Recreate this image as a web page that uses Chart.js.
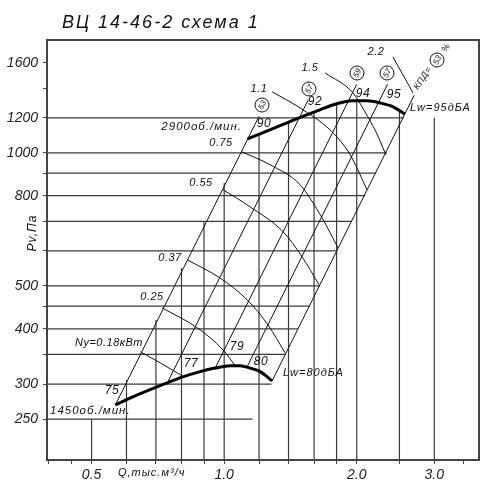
<!DOCTYPE html>
<html><head><meta charset="utf-8">
<script src="https://cdn.jsdelivr.net/npm/chart.js@4/dist/chart.umd.min.js"></script>
<style>html,body{margin:0;padding:0;background:#fff}</style>
</head><body>
<canvas id="c" width="500" height="488"></canvas>
<script>
// ---------- axis / tick data ----------
const X_MIN = 0.396, X_MAX = 3.79, Y_MIN = 202, Y_MAX = 1800;
const xTickMarks = [0.4, 0.45, 0.5, 0.6, 0.7, 0.8, 0.9, 1.0, 1.2, 1.4, 1.6, 1.8, 2.0, 2.5, 3.0, 3.5];
const xTickLabels = [0.5, 1.0, 2.0, 3.0];
const yTickMarks = [250, 300, 350, 400, 450, 500, 600, 700, 800, 900, 1000, 1200, 1400, 1600];
const yTickLabels = [250, 300, 400, 500, 800, 1000, 1200, 1600];

// ---------- partial grid lines ----------
const gridP    = [250, 300, 350, 400, 450, 500, 600, 700, 800, 900, 1000, 1200];
const gridEndQ = [1.16, 1.28, 1.38, 1.47, 1.56, 1.65, 1.80, 1.95, 2.09, 2.21, 2.34, 2.56];
const gridQ    = [0.5, 0.6, 0.7, 0.8, 0.9, 1.0, 1.2, 1.4, 1.6, 1.8, 2.0, 2.5, 3.0];
const gridTopP = [250, 306, 419, 549, 698, 855, 1105, 1175, 1237, 1290, 1312, 1245, 1200];

// ---------- fan curves ----------
const fan1450Q = [0.566, 0.622, 0.743, 0.803, 0.882, 0.954, 1.032, 1.087, 1.145, 1.207, 1.285];
const fan1450P = [269, 281, 302, 311, 320, 326, 330, 330, 326, 320, 305];
const fan2900Q = [1.13, 1.27, 1.46, 1.65, 1.80, 1.96, 2.11, 2.26, 2.42, 2.57];
const fan2900P = [1076, 1127, 1194, 1251, 1291, 1311, 1311, 1297, 1271, 1225];

// ---------- efficiency (similarity) lines ----------
const effBottomQ = [0.566, 0.743, 0.954, 1.127, 1.285];
const effBottomP = [269, 302, 326, 328, 305];
const effTopQ    = [1.20, 1.552, 2.00, 2.35, 2.70];
const effTopP    = [1210, 1318, 1430, 1430, 1350];

// ---------- power lines Ny, kW ----------
const pw018Q = [0.645, 0.716, 0.803];           const pw018P = [355, 335, 313];
const pw025Q = [0.723, 0.869, 0.995, 1.059];    const pw025P = [446, 402, 358, 330];
const pw037Q = [0.824, 0.979, 1.128, 1.258, 1.375]; const pw037P = [573, 521, 465, 408, 353];
const pw055Q = [0.995, 1.145, 1.361, 1.503, 1.642]; const pw055P = [825, 755, 663, 582, 503];
const pw075Q = [1.098, 1.271, 1.487, 1.668, 1.813]; const pw075P = [1005, 940, 847, 713, 610];
const pw11Q  = [1.285, 1.487, 1.740, 1.881, 1.951, 2.110]; const pw11P = [1374, 1264, 1127, 1032, 974, 825];
const pw15Q  = [1.694, 1.961, 2.088, 2.211, 2.329]; const pw15P = [1517, 1367, 1238, 1116, 990];
const pw22Q  = [2.416, 2.684];                  const pw22P = [1649, 1367];

// ---------- build datasets ----------
const pts = (qs, ps) => qs.map((q, i) => ({x: q, y: ps[i]}));
const datasets = [];
const add = (data, color, width, order, smooth) => datasets.push({
  data, borderColor: color, borderWidth: width, order, pointRadius: 0,
  fill: false, cubicInterpolationMode: smooth ? 'monotone' : 'default', tension: 0
});
add(pts(fan1450Q, fan1450P), '#000', 3, 0, true);
add(pts(fan2900Q, fan2900P), '#000', 3, 0, true);
for (let i = 0; i < effBottomQ.length; i++)
  add([{x: effBottomQ[i], y: effBottomP[i]}, {x: effTopQ[i], y: effTopP[i]}], '#111', 1, 1, false);
[[pw018Q,pw018P],[pw025Q,pw025P],[pw037Q,pw037P],[pw055Q,pw055P],[pw075Q,pw075P],
 [pw11Q,pw11P],[pw15Q,pw15P],[pw22Q,pw22P]].forEach(([q,p]) => add(pts(q,p), '#111', 1, 1, true));
for (let i = 0; i < gridP.length; i++)
  add([{x: X_MIN, y: gridP[i]}, {x: gridEndQ[i], y: gridP[i]}], '#3a3a3a', 1.2, 2, false);
for (let i = 0; i < gridQ.length; i++)
  add([{x: gridQ[i], y: Y_MIN}, {x: gridQ[i], y: gridTopP[i]}], '#3a3a3a', 1.2, 2, false);

// ---------- plugins ----------
const FONT = 'Liberation Sans';
const framePlugin = {
  id: 'frame',
  afterDraw(chart) {
    const {ctx, chartArea: a} = chart;
    ctx.save();
    ctx.strokeStyle = '#444'; ctx.lineWidth = 2;
    ctx.beginPath();
    ctx.moveTo(a.left, a.top); ctx.lineTo(a.right, a.top); ctx.lineTo(a.right, a.bottom);
    ctx.stroke();
    ctx.restore();
  }
};
const labelList = [
  {t: '2900об./мин.', x: 242, y: 127, a: 'right', s: 11.5, ls: 1},
  {t: '1450об./мин.', x: 50, y: 411, a: 'left', s: 11.5, ls: 1},
  {t: '0.75', x: 221, y: 143, a: 'center', s: 11, ls: 0.5},
  {t: '0.55', x: 201, y: 183, a: 'center', s: 11, ls: 0.5},
  {t: '0.37', x: 170, y: 258, a: 'center', s: 11, ls: 0.5},
  {t: '0.25', x: 152, y: 297, a: 'center', s: 11, ls: 0.5},
  {t: 'Nу=0.18кВт', x: 75, y: 343, a: 'left', s: 11, ls: 0.5},
  {t: '75', x: 112, y: 391, a: 'center', s: 12, ls: 0.5},
  {t: '77', x: 191, y: 364, a: 'center', s: 12, ls: 0.5},
  {t: '79', x: 237, y: 347, a: 'center', s: 12, ls: 0.5},
  {t: '80', x: 261, y: 362, a: 'center', s: 12, ls: 0.5},
  {t: 'Lw=80дБА', x: 283, y: 373, a: 'left', s: 11, ls: 1},
  {t: '90', x: 264, y: 124, a: 'center', s: 12, ls: 0.5},
  {t: '92', x: 315, y: 102, a: 'center', s: 12, ls: 0.5},
  {t: '94', x: 363, y: 94, a: 'center', s: 12, ls: 0.5},
  {t: '95', x: 394, y: 95, a: 'center', s: 12, ls: 0.5},
  {t: '1.1', x: 259, y: 89, a: 'center', s: 11, ls: 0.5},
  {t: '1.5', x: 310, y: 68, a: 'center', s: 11, ls: 0.5},
  {t: '2.2', x: 376, y: 52, a: 'center', s: 11, ls: 0.5},
  {t: 'Lw=95дБА', x: 410, y: 108, a: 'left', s: 11, ls: 1},
  {t: 'Q,тыс.м³/ч', x: 118, y: 473, a: 'left', s: 11, ls: 1},
];
const circleList = [
  {t: '53', x: 262, y: 105}, {t: '57', x: 309, y: 89}, {t: '59', x: 357, y: 73},
  {t: '57', x: 387, y: 73}, {t: '53', x: 437, y: 60}
];
const textPlugin = {
  id: 'texts',
  afterDraw(chart) {
    const ctx = chart.ctx;
    ctx.save();
    ctx.fillStyle = '#111';
    ctx.textBaseline = 'middle';
    // title
    ctx.font = `italic 18px "${FONT}"`;
    ctx.letterSpacing = '2px';
    ctx.textAlign = 'left';
    ctx.fillText('ВЦ 14-46-2 схема 1', 62, 23);
    // y axis title
    ctx.save();
    ctx.translate(33, 233); ctx.rotate(-Math.PI / 2);
    ctx.font = `italic 12px "${FONT}"`; ctx.letterSpacing = '1px'; ctx.textAlign = 'center';
    ctx.fillText('Pv,Па', 0, 0);
    ctx.restore();
    labelList.forEach(l => {
      ctx.font = `italic ${l.s}px "${FONT}"`;
      ctx.letterSpacing = l.ls + 'px';
      ctx.textAlign = l.a;
      ctx.fillText(l.t, l.x, l.y);
    });
    // circles
    ctx.strokeStyle = '#111'; ctx.lineWidth = 1;
    circleList.forEach(c => {
      ctx.beginPath(); ctx.arc(c.x, c.y, 7, 0, Math.PI * 2); ctx.stroke();
      ctx.save(); ctx.translate(c.x, c.y); ctx.rotate(-Math.PI / 3);
      ctx.font = `italic 8px "${FONT}"`; ctx.letterSpacing = '0px'; ctx.textAlign = 'center';
      ctx.fillText(c.t, 0, 0.5);
      ctx.restore();
    });
    // КПД label along right boundary
    ctx.save(); ctx.translate(416, 89); ctx.rotate(-57 * Math.PI / 180);
    ctx.font = `italic 9px "${FONT}"`; ctx.letterSpacing = '0.5px'; ctx.textAlign = 'left';
    ctx.fillText('КПД=', 0, 0);
    ctx.restore();
    ctx.font = `italic 9px "${FONT}"`; ctx.letterSpacing = '0px'; ctx.textAlign = 'center';
    ctx.save(); ctx.translate(446, 48); ctx.rotate(-57 * Math.PI / 180);
    ctx.fillText('%', 0, 0); ctx.restore();
    ctx.restore();
  }
};

const tickFont = {family: FONT, size: 14, style: 'italic'};
new Chart(document.getElementById('c'), {
  type: 'line',
  data: {datasets},
  options: {
    responsive: false, animation: false, events: [],
    layout: {padding: {top: 40, right: 21, left: 0, bottom: 0}},
    plugins: {legend: {display: false}, tooltip: {enabled: false}, title: {display: false}},
    scales: {
      x: {
        type: 'logarithmic', min: X_MIN, max: X_MAX, bounds: 'data',
        afterBuildTicks: s => { s.ticks = xTickMarks.map(v => ({value: v})); },
        afterFit: s => { s.height = 28; },
        ticks: {autoSkip: false, maxRotation: 0, padding: 3, color: '#222', font: tickFont,
          callback: v => xTickLabels.includes(v) ? Number(v).toFixed(1) : ''},
        grid: {display: true, drawOnChartArea: false, drawTicks: true, tickLength: 4, color: '#444', lineWidth: 1},
        border: {display: true, color: '#444', width: 2}
      },
      y: {
        type: 'logarithmic', min: Y_MIN, max: Y_MAX, bounds: 'data',
        afterBuildTicks: s => { s.ticks = yTickMarks.map(v => ({value: v})); },
        afterFit: s => { s.width = 47; },
        ticks: {autoSkip: false, padding: 5, color: '#222', font: tickFont,
          callback: v => yTickLabels.includes(v) ? String(v) : ''},
        grid: {display: true, drawOnChartArea: false, drawTicks: true, tickLength: 4, color: '#444', lineWidth: 1},
        border: {display: true, color: '#444', width: 2}
      }
    }
  },
  plugins: [framePlugin, textPlugin]
});
</script>
</body></html>
